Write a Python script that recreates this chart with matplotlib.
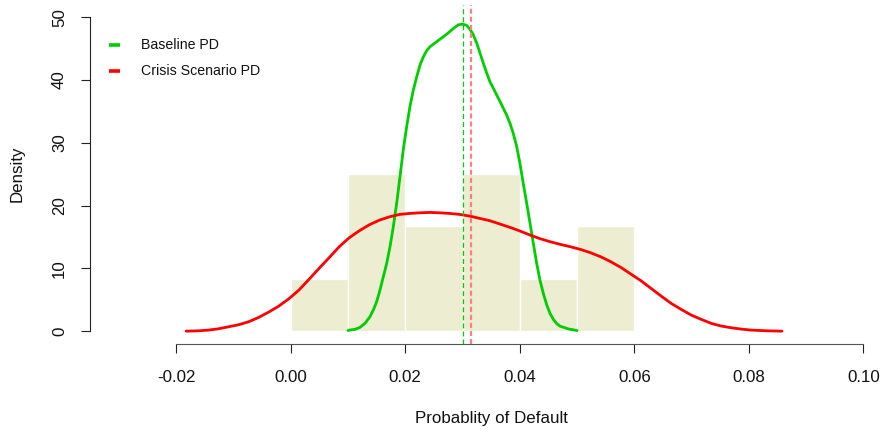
import matplotlib
matplotlib.use("Agg")
import matplotlib.pyplot as plt
import matplotlib.transforms as mtransforms

plt.rcParams["font.family"] = ["Liberation Sans", "DejaVu Sans"]
plt.rcParams["lines.scale_dashes"] = False

# Histogram of the sampled PDs (bin width 0.01, density scale)
bin_left = [0.00, 0.01, 0.02, 0.03, 0.04, 0.05]
bin_density = [8.33, 25.0, 16.67, 25.0, 8.33, 16.67]
bin_width = 0.01

# Kernel density of the baseline PD
base_x = [0.01000, 0.01034, 0.01121, 0.01209, 0.01296, 0.01383, 0.01441,
          0.01500, 0.01558, 0.01616, 0.01675, 0.01733, 0.01790, 0.01850,
          0.01907, 0.01965, 0.02024, 0.02082, 0.02140, 0.02199, 0.02257,
          0.02315, 0.02374, 0.02431, 0.02519, 0.02606, 0.02723, 0.02838,
          0.02926, 0.03003, 0.03073, 0.03130, 0.03188, 0.03247, 0.03305,
          0.03362, 0.03422, 0.03480, 0.03537, 0.03597, 0.03654, 0.03712,
          0.03771, 0.03829, 0.03886, 0.03946, 0.04003, 0.04061, 0.04120,
          0.04178, 0.04236, 0.04295, 0.04353, 0.04411, 0.04470, 0.04528,
          0.04585, 0.04645, 0.04702, 0.04850, 0.05000]
base_y = [0.10, 0.18, 0.28, 0.60, 1.24, 2.30, 3.36,
          4.69, 6.55, 8.67, 10.8, 13.45, 16.6, 20.4,
          24.6, 28.9, 32.6, 35.8, 38.4, 40.5, 42.4,
          43.7, 44.7, 45.3, 45.9, 46.5, 47.3, 48.2,
          48.8, 48.9, 48.7, 48.1, 47.2, 45.9, 44.3,
          42.7, 41.1, 39.7, 38.7, 37.6, 36.6, 35.5,
          34.4, 33.1, 31.5, 29.4, 26.7, 23.5, 20.4,
          17.2, 14.0, 10.8, 8.1, 6.0, 4.2, 2.8,
          1.9, 1.2, 0.8, 0.35, 0.10]

# Kernel density of the crisis-scenario PD
crisis_x = [-0.01828, -0.01617, -0.01442, -0.01266, -0.01090, -0.00914,
            -0.00738, -0.00563, -0.00387, -0.00211, -0.00035, 0.00141,
            0.00316, 0.00492, 0.00668, 0.00844, 0.01020, 0.01195, 0.01371,
            0.01547, 0.01723, 0.01899, 0.02075, 0.02250, 0.02426, 0.02602,
            0.02778, 0.02954, 0.03129, 0.03305, 0.03481, 0.03657, 0.03833,
            0.04008, 0.04184, 0.04360, 0.04536, 0.04712, 0.04887, 0.05063,
            0.05239, 0.05415, 0.05591, 0.05767, 0.05942, 0.06118, 0.06294,
            0.06470, 0.06646, 0.06821, 0.06997, 0.07173, 0.07349, 0.07525,
            0.07700, 0.07876, 0.08052, 0.08333, 0.08579]
crisis_y = [0.0, 0.05, 0.16, 0.37, 0.69, 1.01,
            1.49, 2.18, 3.03, 3.98, 5.15, 6.53,
            8.23, 9.98, 11.68, 13.43, 14.87, 15.98, 16.94,
            17.68, 18.21, 18.59, 18.75, 18.85, 18.91, 18.85,
            18.75, 18.59, 18.32, 17.95, 17.58, 17.05, 16.52,
            15.93, 15.29, 14.71, 14.23, 13.81, 13.44, 13.01,
            12.48, 11.84, 11.05, 10.14, 9.08, 8.02, 6.80,
            5.58, 4.41, 3.45, 2.55, 1.86, 1.22, 0.80,
            0.53, 0.32, 0.16, 0.05, 0.0]

# Mean PD of each scenario
base_mean = 0.0300
crisis_mean = 0.0314

x_ticks = [-0.02, 0.00, 0.02, 0.04, 0.06, 0.08, 0.10]
x_tick_labels = ["-0.02", "0.00", "0.02", "0.04", "0.06", "0.08", "0.10"]
y_ticks = [0, 10, 20, 30, 40, 50]
y_tick_labels = ["0", "10", "20", "30", "40", "50"]
legend_labels = ["Baseline PD", "Crisis Scenario PD"]

GREEN = "#00CD00"
RED = "#FF0000"
RED_LIGHT = "#FF8080"
HIST = "#EDEDD1"

W, H = 885, 432
fig = plt.figure(figsize=(W / 100, H / 100), dpi=100)
left_px, right_px, top_px, bottom_px = 89.7, 885.0, 4.7, 343.7
ax = fig.add_axes([left_px / W, 1 - bottom_px / H,
                   (right_px - left_px) / W, (bottom_px - top_px) / H])
px_per_unit = 5725.0
x0 = -0.02 - (176.3 - left_px) / px_per_unit
ax.set_xlim(x0, x0 + (right_px - left_px) / px_per_unit)
ax.set_ylim(-2, 52)

ax.bar(bin_left, bin_density, width=bin_width, align="edge",
       color=HIST, edgecolor="white", linewidth=1.0, zorder=1)
ax.plot(base_x, base_y, color=GREEN, lw=2.0, zorder=3,
        solid_capstyle="round", solid_joinstyle="round")
ax.plot(crisis_x, crisis_y, color=RED, lw=2.0, zorder=3,
        solid_capstyle="round", solid_joinstyle="round")
ax.axvline(base_mean, color=GREEN, lw=0.9, dashes=(3.6, 2.2), zorder=4)
ax.axvline(crisis_mean, color=RED_LIGHT, lw=1.6, dashes=(3.6, 2.2), zorder=4)

# Axes in the style of base R graphics
for s in ("top", "right"):
    ax.spines[s].set_visible(False)
ax.spines["left"].set_bounds(0, 50)
ax.spines["bottom"].set_bounds(-0.02, 0.10)
ax.spines["left"].set_color("#222222")
ax.spines["bottom"].set_color("#555555")
for s in ("left", "bottom"):
    ax.spines[s].set_linewidth(0.8)
ax.set_xticks(x_ticks)
ax.set_yticks(y_ticks)
ax.tick_params(axis="both", direction="out", length=6.8, width=0.8,
               color="#222222", labelbottom=False, labelleft=False)

tx = mtransforms.blended_transform_factory(ax.transData, fig.transFigure)
for v, s in zip(x_ticks, x_tick_labels):
    fig.text(0, 0, s, transform=tx, fontsize=12.2, ha="center", va="center",
             color="#111111").set_position((v, 1 - 377 / H))
ty = mtransforms.blended_transform_factory(fig.transFigure, ax.transData)
for v, s in zip(y_ticks, y_tick_labels):
    t = fig.text(0, 0, s, transform=ty, fontsize=12.2, ha="center",
                 va="center", rotation=90, color="#111111")
    t.set_position((59.5 / W, v))

fig.text(491 / W, 1 - 419 / H, "Probablity of Default", fontsize=12.2,
         ha="center", va="center", color="#111111")
fig.text(17.5 / W, 1 - 174 / H, "Density", fontsize=12.2, rotation=90,
         ha="center", va="center", color="#111111")

# Legend
for (ypx, col, lab) in [(44.7, GREEN, legend_labels[0]),
                        (70.7, RED, legend_labels[1])]:
    fig.add_artist(plt.Line2D([109.3 / W, 120.0 / W],
                              [1 - ypx / H, 1 - ypx / H],
                              color=col, lw=2.6, solid_capstyle="butt"))
    fig.text(141 / W, 1 - (ypx + 0.5) / H, lab, fontsize=10.2,
             ha="left", va="center", color="#111111")

fig.savefig("out.png", dpi=100)
